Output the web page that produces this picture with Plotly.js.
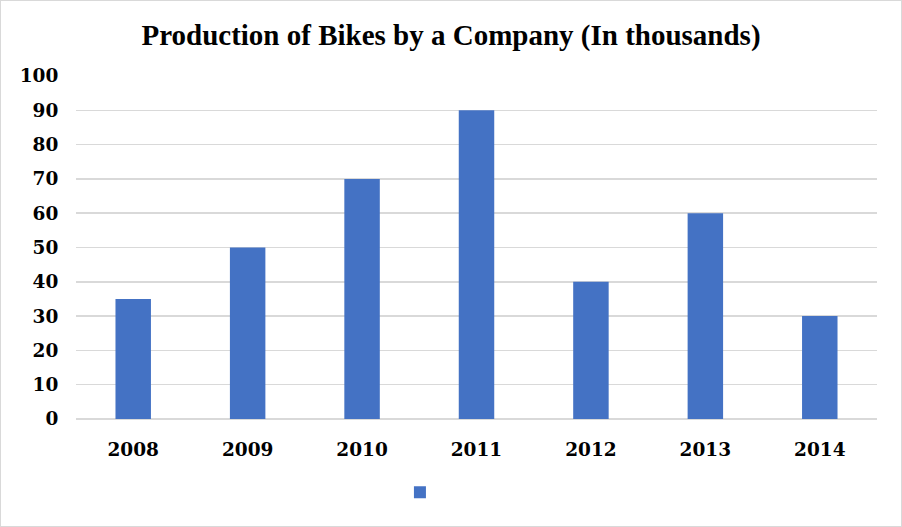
<!DOCTYPE html>
<html><head><meta charset="utf-8">
<script src="https://cdn.plot.ly/plotly-3.0.1.min.js"></script>
<style>
html,body{margin:0;padding:0;background:#fff;}
#wrap{width:900px;height:525px;border:1px solid #d9d9d9;}
#chart{width:900px;height:525px;}
</style></head>
<body><div id="wrap"><div id="chart"></div></div>
<script>
const years = ['2008','2009','2010','2011','2012','2013','2014'];
const production = [35, 50, 70, 90, 40, 60, 30];
const yTicks = [0,10,20,30,40,50,60,70,80,90,100];

const tickFont = {family:'DejaVu Serif, Liberation Serif, serif', size:18.5, color:'#000', weight:'bold'};

Plotly.newPlot('chart', [{
  type:'bar', x: years, y: production, name:' ',
  marker:{color:'#4472C4'}, width:0.31, showlegend:true
}], {
  width:900, height:525,
  paper_bgcolor:'#fff', plot_bgcolor:'#fff',
  margin:{l:75, r:24, t:75, b:107},
  title:{text:'<b>Production of Bikes by a Company (In thousands)</b>',
    font:{family:'Liberation Serif, serif', size:29, color:'#000'},
    x:0.5, xanchor:'center', y:0.935, yanchor:'middle'},
  xaxis:{type:'category', tickfont:tickFont, ticks:'outside', ticklen:14, tickcolor:'rgba(0,0,0,0)',
    showline:false, showgrid:false, fixedrange:true},
  yaxis:{range:[0,100], tickvals:yTicks, tickfont:tickFont, ticks:'outside', ticklen:13,
    tickcolor:'rgba(0,0,0,0)', gridcolor:'#d9d9d9', gridwidth:1.5, zeroline:true,
    zerolinecolor:'#d9d9d9', zerolinewidth:1.5, showline:false},
  showlegend:true,
  legend:{orientation:'h', x:0.435, xanchor:'center', y:-0.215, yanchor:'middle',
    font:{size:14}, bgcolor:'rgba(0,0,0,0)'},
  bargap:0.69
}, {displayModeBar:false, staticPlot:true});
</script></body></html>
